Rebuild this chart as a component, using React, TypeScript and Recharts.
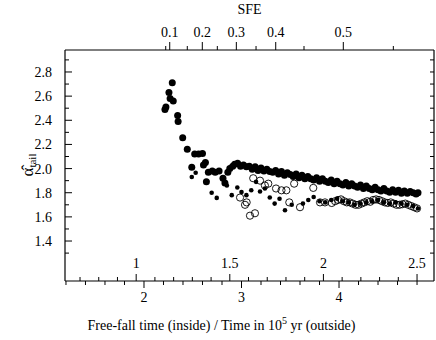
import React from 'react';
import { ScatterChart, Scatter, XAxis, YAxis, Label } from 'recharts';

// ---------- data (time in 1e5 yr, alpha_tail) ----------
const upperTime = [
  2.215, 2.225, 2.256, 2.268, 2.29, 2.30, 2.345, 2.35, 2.397, 2.444, 2.49, 2.52, 2.56, 2.60,
  2.61, 2.63, 2.64, 2.66, 2.70, 2.73, 2.77, 2.81, 2.83, 2.86, 2.88, 2.91,
  2.93, 2.96, 2.99, 3.02, 3.05, 3.08, 3.11, 3.14, 3.17, 3.20, 3.23, 3.26, 3.29, 3.32, 3.35,
  3.38, 3.41, 3.44, 3.47, 3.50, 3.53, 3.56, 3.59, 3.62, 3.65, 3.68, 3.71, 3.74, 3.77, 3.80,
  3.83, 3.86, 3.89, 3.92, 3.95, 3.98, 4.01, 4.04, 4.07, 4.10, 4.13, 4.16, 4.19, 4.22, 4.25,
  4.28, 4.31, 4.34, 4.37, 4.40, 4.43, 4.46, 4.49, 4.52, 4.55, 4.58, 4.61, 4.64, 4.67, 4.70,
  4.73, 4.76, 4.79, 4.81,
];
const upperAlpha = [
  2.49, 2.51, 2.63, 2.58, 2.71, 2.56, 2.44, 2.39, 2.255, 2.16, 2.01, 2.12, 2.12, 2.125,
  2.03, 2.05, 1.89, 1.97, 1.98, 1.97, 1.98, 1.92, 1.88, 1.97, 2.00, 2.02,
  2.035, 2.045, 2.02, 2.03, 2.015, 2.02, 1.995, 2.015, 1.985, 2.005, 1.98, 1.995, 1.975, 1.97, 1.985,
  1.955, 1.975, 1.945, 1.965, 1.95, 1.935, 1.955, 1.925, 1.945, 1.915, 1.935, 1.915, 1.905, 1.925, 1.895,
  1.915, 1.895, 1.885, 1.905, 1.875, 1.895, 1.875, 1.865, 1.885, 1.855, 1.875, 1.855, 1.845, 1.865, 1.835,
  1.855, 1.835, 1.825, 1.845, 1.825, 1.815, 1.835, 1.815, 1.805, 1.825, 1.805, 1.82, 1.795, 1.815, 1.795,
  1.81, 1.80, 1.79, 1.80,
];

const lowerTime = [
  2.49, 2.53, 2.694, 2.746, 2.85, 2.90, 2.957, 3.00, 3.05, 3.10, 3.149, 3.19, 3.24, 3.29,
  3.34, 3.39, 3.446, 3.515, 3.63, 3.685, 3.74, 3.80, 3.86, 3.92, 3.98, 4.04, 4.10, 4.16,
  4.22, 4.28, 4.34, 4.40, 4.46, 4.52, 4.58, 4.64, 4.70, 4.76, 4.81,
];
const lowerAlpha = [
  1.93, 1.965, 1.80, 1.757, 1.86, 1.78, 1.843, 1.806, 1.78, 1.82, 1.89, 1.81, 1.835, 1.76,
  1.71, 1.75, 1.655, 1.70, 1.71, 1.74, 1.765, 1.73, 1.72, 1.74, 1.75, 1.73, 1.72, 1.70,
  1.71, 1.72, 1.73, 1.74, 1.72, 1.71, 1.72, 1.71, 1.70, 1.69, 1.67,
];

const openTime = [
  2.985, 3.036, 3.053, 3.087, 3.12, 3.138, 3.19, 3.24, 3.275, 3.354, 3.41, 3.46, 3.49, 3.54,
  3.60, 3.736, 3.805, 3.856, 3.925, 3.96, 3.99, 4.02, 4.05, 4.08, 4.11, 4.14, 4.17, 4.20,
  4.23, 4.26, 4.29, 4.32, 4.35, 4.38, 4.41, 4.44, 4.47, 4.50, 4.53, 4.56, 4.59, 4.62, 4.65,
  4.68, 4.71, 4.74, 4.77, 4.80,
];
const openAlpha = [
  1.76, 1.70, 1.72, 1.61, 1.92, 1.63, 1.90, 1.86, 1.875, 1.835, 1.82, 1.82, 1.72, 1.875,
  1.68, 1.84, 1.72, 1.72, 1.715, 1.73, 1.74, 1.745, 1.73, 1.72, 1.72, 1.71, 1.70, 1.70,
  1.71, 1.72, 1.73, 1.725, 1.74, 1.745, 1.74, 1.73, 1.72, 1.715, 1.72, 1.71, 1.70, 1.70, 1.705,
  1.71, 1.70, 1.69, 1.68, 1.67,
];

// ---------- axes ----------
const timeDomain = [1.19, 4.974];
const timeTicks = [1.2, 1.4, 1.6, 1.8, 2.0, 2.2, 2.4, 2.6, 2.8, 3.0, 3.2, 3.4, 3.6, 3.8, 4.0, 4.2, 4.4, 4.6, 4.8];
const timeTickLabels = ['2', '3', '4'];
const freeFallTimeUnit = 1.92; // 1 free-fall time in 1e5 yr
const freeFallTicks = [0.7, 0.8, 0.9, 1.0, 1.1, 1.2, 1.3, 1.4, 1.5, 1.6, 1.7, 1.8, 1.9, 2.0, 2.1, 2.2, 2.3, 2.4, 2.5];
const freeFallTickLabels = ['1', '1.5', '2', '2.5'];
const sfeTickTimes = [2.223, 2.264, 2.444, 2.598, 2.752, 2.947, 3.149, 3.351, 3.641, 4.044, 4.557];
const sfeTickLabels = ['', '0.1', '', '0.2', '', '0.3', '', '0.4', '', '0.5', ''];
const alphaDomain = [1.069, 2.982];
const alphaTicks = [1.3, 1.4, 1.5, 1.6, 1.7, 1.8, 1.9, 2.0, 2.1, 2.2, 2.3, 2.4, 2.5, 2.6, 2.7, 2.8, 2.9];
const alphaTickLabels = ['1.4', '1.6', '1.8', '2.0', '2.2', '2.4', '2.6', '2.8'];

const FONT = "'Liberation Serif', 'Times New Roman', Times, serif";
const FS = 14;

const upperData = upperTime.map((t, i) => ({ t, a: upperAlpha[i] }));
const lowerData = lowerTime.map((t, i) => ({ t, a: lowerAlpha[i] }));
const openData = openTime.map((t, i) => ({ t, a: openAlpha[i] }));

const fmt = (v: number) => String(+v.toFixed(2));

const TimeTick = (p: any) => {
  const lbl = fmt(p.payload.value);
  const major = timeTickLabels.includes(lbl);
  return (
    <g>
      <line x1={p.x} x2={p.x} y1={p.y} y2={p.y + (major ? 7 : 4)} stroke="#000" />
      {major && (
        <text x={p.x} y={p.y + 21} textAnchor="middle" fontSize={FS} fontFamily={FONT} fill="#000">{lbl}</text>
      )}
    </g>
  );
};

const FreeFallTick = (p: any) => {
  const lbl = fmt(p.payload.value);
  const major = freeFallTickLabels.includes(lbl);
  return (
    <g>
      <line x1={p.x} x2={p.x} y1={p.y} y2={p.y - (major ? 7 : 4)} stroke="#000" />
      {major && (
        <text x={p.x} y={p.y - 13} textAnchor="middle" fontSize={FS} fontFamily={FONT} fill="#000">{lbl}</text>
      )}
    </g>
  );
};

const SfeTick = (p: any) => {
  const idx = sfeTickTimes.indexOf(p.payload.value);
  const lbl = idx >= 0 ? sfeTickLabels[idx] : '';
  const major = lbl !== '';
  return (
    <g>
      <line x1={p.x} x2={p.x} y1={p.y} y2={p.y - (major ? 8 : 4)} stroke="#000" />
      {major && (
        <text x={p.x} y={p.y - 13} textAnchor="middle" fontSize={FS} fontFamily={FONT} fill="#000">{lbl}</text>
      )}
    </g>
  );
};

const AlphaTick = (p: any) => {
  const lbl = p.payload.value.toFixed(1);
  const major = alphaTickLabels.includes(lbl);
  return (
    <g>
      <line x1={p.x} x2={p.x + (major ? 7 : 4)} y1={p.y} y2={p.y} stroke="#000" />
      {major && (
        <text x={p.x - 13} y={p.y + 5} textAnchor="end" fontSize={FS} fontFamily={FONT} fill="#000">{lbl}</text>
      )}
    </g>
  );
};

const RightTick = (p: any) => (
  <line x1={p.x} x2={p.x - 4} y1={p.y} y2={p.y} stroke="#000" />
);

const BottomTitle = (p: any) => {
  const vb = p.viewBox || { x: 65, y: 281, width: 369, height: 59 };
  const cx = vb.x + vb.width / 2 - 28;
  return (
    <text x={cx} y={vb.y + 49} textAnchor="middle" fontSize={FS} fontFamily={FONT} fill="#000">
      Free-fall time (inside) / Time in 10
      <tspan fontSize={10} dy={-6}>5</tspan>
      <tspan dy={6}> yr (outside)</tspan>
    </text>
  );
};

const TopTitle = (p: any) => {
  const vb = p.viewBox || { x: 65, y: 0, width: 369, height: 50 };
  return (
    <text x={vb.x + vb.width / 2} y={vb.y + 14} textAnchor="middle" fontSize={FS} fontFamily={FONT} fill="#000">
      SFE
    </text>
  );
};

const LeftTitle = (p: any) => {
  const vb = p.viewBox || { x: 0, y: 50, width: 65, height: 231 };
  const cx = vb.x + 33;
  const cy = vb.y + 115;
  return (
    <text x={cx} y={cy} transform={`rotate(-90, ${cx}, ${cy})`} textAnchor="middle" fontSize={17} fontFamily={FONT} fill="#000">
      {'\u03b1\u0302'}
      <tspan fontSize={11} dy={3}>tail</tspan>
    </text>
  );
};

const Filled = (r: number) => (p: any) => <circle cx={p.cx} cy={p.cy} r={r} fill="#000" />;
const Open = (p: any) => <circle cx={p.cx} cy={p.cy} r={3.6} fill="none" stroke="#000" strokeWidth={0.9} />;
const Hidden = () => <g />;

export default function App() {
  return (
    <div style={{ position: 'absolute', left: 0, top: 0, background: '#fff' }}>
      <ScatterChart width={436} height={340} margin={{ top: 0, right: 2, bottom: 0, left: 0 }}>
        <XAxis
          xAxisId="t" dataKey="t" type="number" orientation="bottom" domain={timeDomain}
          allowDataOverflow ticks={timeTicks} interval={0} height={59}
          tickSize={0} tickMargin={0} axisLine={{ stroke: '#000', strokeWidth: 1.2 }} tickLine={false}
          tick={<TimeTick />}
        >
          <Label content={<BottomTitle />} />
        </XAxis>
        <XAxis
          xAxisId="ff" dataKey="t" type="number" orientation="bottom" mirror
          domain={[timeDomain[0] / freeFallTimeUnit, timeDomain[1] / freeFallTimeUnit]}
          allowDataOverflow ticks={freeFallTicks} interval={0} height={20}
          tickSize={0} tickMargin={0} axisLine={false} tickLine={false}
          tick={<FreeFallTick />}
        />
        <XAxis
          xAxisId="sfe" dataKey="t" type="number" orientation="top" domain={timeDomain}
          allowDataOverflow ticks={sfeTickTimes} interval={0} height={50}
          tickSize={0} tickMargin={0} axisLine={{ stroke: '#000', strokeWidth: 1.2 }} tickLine={false}
          tick={<SfeTick />}
        >
          <Label content={<TopTitle />} />
        </XAxis>
        <YAxis
          yAxisId="a" dataKey="a" type="number" orientation="left" domain={alphaDomain}
          allowDataOverflow ticks={alphaTicks} interval={0} width={65}
          tickSize={0} tickMargin={0} axisLine={{ stroke: '#000', strokeWidth: 1.2 }} tickLine={false}
          tick={<AlphaTick />}
        >
          <Label content={<LeftTitle />} />
        </YAxis>
        <YAxis
          yAxisId="r" dataKey="a" type="number" orientation="right" mirror domain={alphaDomain}
          allowDataOverflow ticks={alphaTicks} interval={0} width={10}
          tickSize={0} tickMargin={0} axisLine={{ stroke: '#000', strokeWidth: 1.2 }} tickLine={false}
          tick={<RightTick />}
        />
        <Scatter data={upperData} xAxisId="sfe" yAxisId="r" isAnimationActive={false} shape={Hidden} legendType="none" />
        <Scatter data={upperData} xAxisId="ff" yAxisId="r" isAnimationActive={false} shape={Hidden} legendType="none" />
        <Scatter data={upperData} xAxisId="t" yAxisId="a" isAnimationActive={false} shape={Filled(3.5)} />
        <Scatter data={lowerData} xAxisId="t" yAxisId="a" isAnimationActive={false} shape={Filled(2.3)} />
        <Scatter data={openData} xAxisId="t" yAxisId="a" isAnimationActive={false} shape={Open} />
      </ScatterChart>
    </div>
  );
}
